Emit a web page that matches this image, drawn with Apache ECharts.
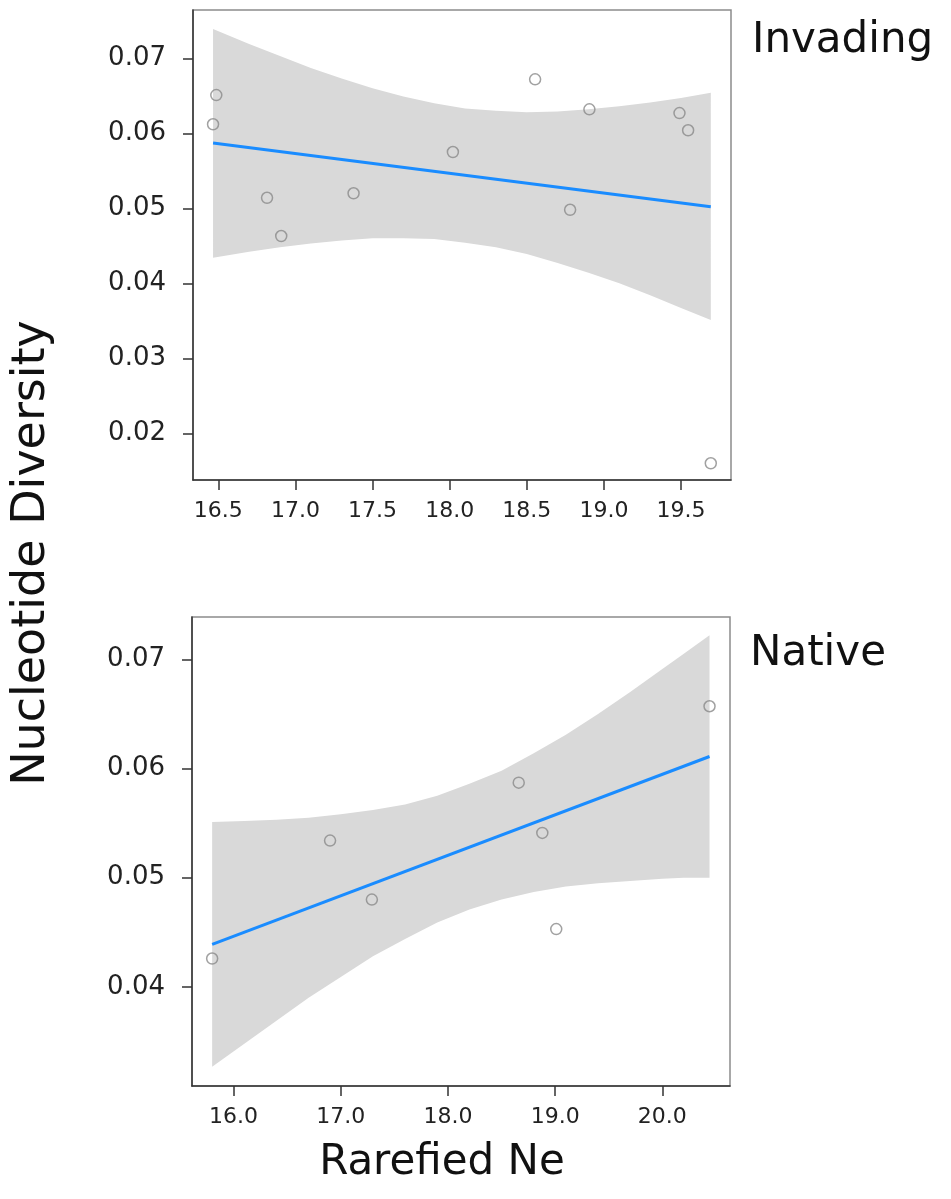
<!DOCTYPE html>
<html>
<head>
<meta charset="utf-8">
<script src="https://cdn.jsdelivr.net/npm/echarts@6/dist/echarts.min.js"></script>
<style>
	html,body{margin:0;padding:0;background:#fff;}
	#chart{width:951px;height:1199px;}
</style>
</head>
<body>
<div id="chart"></div>
<script>
// Invading panel
var invX = [16.487, 16.466, 16.816, 16.908, 17.377, 18.021, 18.554, 18.781, 18.906, 19.490, 19.546, 19.693];
var invY = [0.0651, 0.0612, 0.0514, 0.0463, 0.0520, 0.0575, 0.0672, 0.0498, 0.0632, 0.0627, 0.0604, 0.0160];
var invFitX = [16.466, 19.693];
var invFitY = [0.0587, 0.0502];
var invBandX  = [16.466, 16.7, 16.9, 17.1, 17.3, 17.5, 17.7, 17.9, 18.1, 18.3, 18.5, 18.7, 18.9, 19.1, 19.3, 19.5, 19.693];
var invBandUp = [0.0739, 0.0719, 0.0703, 0.0687, 0.0673, 0.0660, 0.0649, 0.0640, 0.0633, 0.0630, 0.0628, 0.0629, 0.0632, 0.0636, 0.0641, 0.0647, 0.0654];
var invBandLo = [0.0434, 0.0442, 0.0448, 0.0453, 0.0457, 0.0460, 0.0460, 0.0459, 0.0454, 0.0448, 0.0439, 0.0427, 0.0414, 0.0400, 0.0384, 0.0367, 0.0351];
var invXTicks = [16.5, 17.0, 17.5, 18.0, 18.5, 19.0, 19.5];
var invYTicks = [0.02, 0.03, 0.04, 0.05, 0.06, 0.07];

// Native panel
var natX = [15.80, 16.90, 17.29, 18.66, 18.88, 19.01, 20.44];
var natY = [0.0426, 0.0534, 0.0480, 0.0587, 0.0541, 0.0453, 0.0657];
var natFitX = [15.80, 20.44];
var natFitY = [0.0439, 0.0611];
var natBandX  = [15.80, 16.1, 16.4, 16.7, 17.0, 17.3, 17.6, 17.9, 18.2, 18.5, 18.8, 19.1, 19.4, 19.7, 20.0, 20.2, 20.44];
var natBandUp = [0.0551, 0.0552, 0.0553, 0.0555, 0.0558, 0.0562, 0.0567, 0.0575, 0.0586, 0.0598, 0.0614, 0.0631, 0.0650, 0.0670, 0.0691, 0.0705, 0.0722];
var natBandLo = [0.0327, 0.0348, 0.0369, 0.0390, 0.0409, 0.0428, 0.0444, 0.0459, 0.0471, 0.0480, 0.0487, 0.0492, 0.0495, 0.0497, 0.0499, 0.0500, 0.0500];
var natXTicks = [16, 17, 18, 19, 20];
var natYTicks = [0.04, 0.05, 0.06, 0.07];

var FONT = 'DejaVu Sans';

function pairs(xs, ys){
	var out = [];
	for (var i = 0; i < xs.length; i++) out.push([xs[i], ys[i]]);
	return out;
}

function xAxisOf(idx, min, max, ticks){
	return {
		type: 'value', gridIndex: idx, min: min, max: max, z: 10,
		splitLine: {show: false},
		axisLine: {show: true, onZero: false, lineStyle: {color: '#333', width: 1.5}},
		axisTick: {show: true, customValues: ticks, length: 10, lineStyle: {color: '#333', width: 1.5}},
		axisLabel: {customValues: ticks, margin: 20, fontSize: 22, fontFamily: FONT, color: '#222',
			formatter: function(v){ return v.toFixed(1); }}
	};
}
function yAxisOf(idx, min, max, ticks){
	return {
		type: 'value', gridIndex: idx, min: min, max: max, z: 10,
		splitLine: {show: false},
		axisLine: {show: true, onZero: false, lineStyle: {color: '#333', width: 1.5}},
		axisTick: {show: true, customValues: ticks, length: 10, lineStyle: {color: '#333', width: 1.5}},
		axisLabel: {customValues: ticks, margin: 27, fontSize: 26, fontFamily: FONT, color: '#222',
			formatter: function(v){ return v.toFixed(2); }}
	};
}

// confidence band as one polygon: upper edge forward, lower edge back
function bandSeries(idx, bx, bu, bl){
	return {
		type: 'custom', xAxisIndex: idx, yAxisIndex: idx,
		data: pairs(bx, bu), silent: true, z: 1,
		renderItem: function(params, api){
			if (params.dataIndex !== 0) return null;
			var pts = [], i;
			for (i = 0; i < bx.length; i++) pts.push(api.coord([bx[i], bu[i]]));
			for (i = bx.length - 1; i >= 0; i--) pts.push(api.coord([bx[i], bl[i]]));
			return {type: 'polygon', shape: {points: pts}, style: {fill: '#d9d9d9', stroke: null}};
		}
	};
}

function panelSeries(idx, px, py, fx, fy, bx, bu, bl){
	return [
		bandSeries(idx, bx, bu, bl),
		{
			type: 'line', xAxisIndex: idx, yAxisIndex: idx,
			data: pairs(fx, fy), symbol: 'none',
			lineStyle: {color: '#1a8cff', width: 3}, silent: true, z: 2
		},
		{
			type: 'scatter', xAxisIndex: idx, yAxisIndex: idx,
			data: pairs(px, py), symbol: 'circle', symbolSize: 11,
			itemStyle: {color: 'rgba(255,255,255,0)', borderColor: '#8a8a8a', borderWidth: 1.5},
			silent: true, z: 3
		}
	];
}

function initChart(domId){
	var myChart = echarts.init(document.getElementById(domId));
	var option = {
		animation: false,
		backgroundColor: '#fff',
		grid: [
			{left: 193, top: 10, width: 538, height: 470, show: true, borderColor: '#8c8c8c', borderWidth: 1.5, z: 10},
			{left: 192, top: 617, width: 538, height: 469, show: true, borderColor: '#8c8c8c', borderWidth: 1.5, z: 10}
		],
		xAxis: [
			xAxisOf(0, 16.336, 19.824, invXTicks),
			xAxisOf(1, 15.612, 20.631, natXTicks)
		],
		yAxis: [
			yAxisOf(0, 0.01377, 0.07644, invYTicks),
			yAxisOf(1, 0.03093, 0.07387, natYTicks)
		],
		graphic: [
			{type: 'text', left: 752, top: 20, style: {text: 'Invading', fontSize: 42, fontFamily: FONT, fill: '#111'}},
			{type: 'text', left: 750, top: 633, style: {text: 'Native', fontSize: 42, fontFamily: FONT, fill: '#111'}},
			{type: 'text', x: 442, y: 1163, style: {text: 'Rarefied Ne', fontSize: 42, fontFamily: FONT, fill: '#111',
				align: 'center', verticalAlign: 'middle'}},
			{type: 'text', x: 32, y: 553, rotation: Math.PI / 2, style: {text: 'Nucleotide Diversity', fontSize: 46,
				fontFamily: FONT, fill: '#111', align: 'center', verticalAlign: 'middle'}}
		],
		series: panelSeries(0, invX, invY, invFitX, invFitY, invBandX, invBandUp, invBandLo)
			.concat(panelSeries(1, natX, natY, natFitX, natFitY, natBandX, natBandUp, natBandLo))
	};
	myChart.setOption(option);
}
initChart('chart');
</script>
</body>
</html>
